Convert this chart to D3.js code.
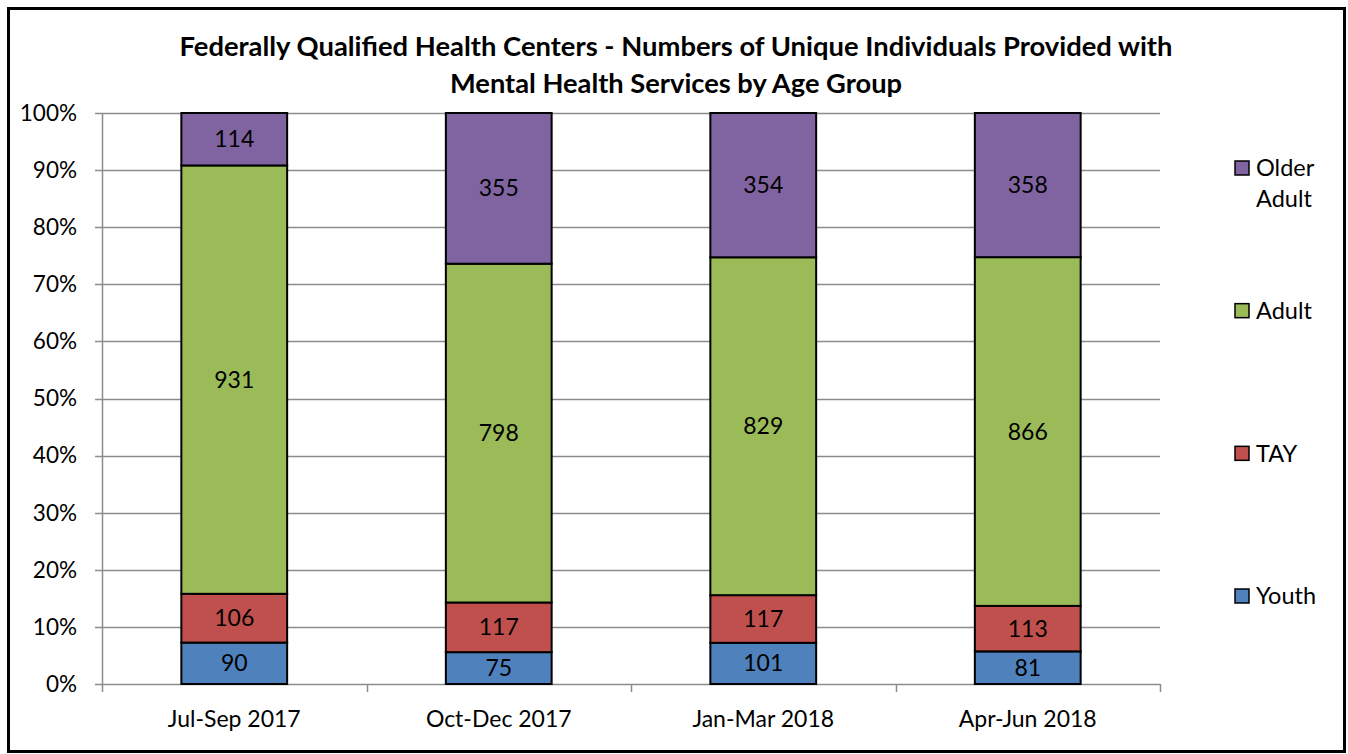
<!DOCTYPE html>
<html>
<head>
<meta charset="utf-8">
<script src="https://cdn.jsdelivr.net/npm/d3@7"></script>
<style>
  html, body { margin: 0; padding: 0; background: #fff; }
  svg { display: block; font-family: Lato, "Open Sans", sans-serif; }
</style>
</head>
<body>
<div id="chart"></div>
<script>
// quarters on the x axis
const quarters = ['Jul-Sep 2017', 'Oct-Dec 2017', 'Jan-Mar 2018', 'Apr-Jun 2018'];

// counts per age group (bottom to top of the stack)
const youth = [90, 75, 101, 81];
const tay = [106, 117, 117, 113];
const adult = [931, 798, 829, 866];
const olderAdult = [114, 355, 354, 358];

const groupNames = ['Youth', 'TAY', 'Adult', 'Older Adult'];
const groupColors = ['#4F81BD', '#C0504D', '#9BBB59', '#8064A2'];
const yTicks = [0, 0.1, 0.2, 0.3, 0.4, 0.5, 0.6, 0.7, 0.8, 0.9, 1];

const titleLines = [
  'Federally Qualified Health Centers - Numbers of Unique Individuals Provided with',
  'Mental Health Services by Age Group'
];

const W = 1348, H = 754;
const margin = { top: 113, right: 188, bottom: 70, left: 102 };
const innerW = W - margin.left - margin.right;
const innerH = H - margin.top - margin.bottom;

const svg = d3.select('#chart').append('svg')
  .attr('width', W)
  .attr('height', H);

// outer frame
svg.append('rect')
  .attr('x', 8.5).attr('y', 8.5)
  .attr('width', 1336).attr('height', 743)
  .attr('fill', 'none')
  .attr('stroke', '#000')
  .attr('stroke-width', 3);

// title
svg.append('text')
  .attr('x', 676)
  .attr('text-anchor', 'middle')
  .attr('font-weight', 'bold')
  .attr('font-size', 26)
  .selectAll('tspan')
  .data(titleLines)
  .join('tspan')
  .attr('x', 676)
  .attr('y', (d, i) => 56 + i * 37)
  .attr('textLength', (d, i) => (i === 0 ? 993 : 452))
  .attr('lengthAdjust', 'spacingAndGlyphs')
  .text((d) => d);

const g = svg.append('g').attr('transform', `translate(${margin.left},${margin.top})`);

// build rows and stack them as percentages
const rows = quarters.map((q, i) => ({
  quarter: q,
  'Youth': youth[i],
  'TAY': tay[i],
  'Adult': adult[i],
  'Older Adult': olderAdult[i]
}));

const stack = d3.stack().keys(groupNames).offset(d3.stackOffsetExpand);
const series = stack(rows);

const x = d3.scaleBand()
  .domain(quarters)
  .range([0, innerW])
  .paddingInner(0.6)
  .paddingOuter(0.3);

const y = d3.scaleLinear().domain([0, 1]).range([innerH, 0]);
const color = d3.scaleOrdinal().domain(groupNames).range(groupColors);

// gridlines
g.append('g')
  .selectAll('line')
  .data(yTicks)
  .join('line')
  .attr('x1', -7)
  .attr('x2', innerW)
  .attr('y1', (d) => Math.round(y(d)) + 0.5)
  .attr('y2', (d) => Math.round(y(d)) + 0.5)
  .attr('stroke', '#8c8c8c')
  .attr('stroke-width', 1.5);

// y axis line
g.append('line')
  .attr('x1', 0.5).attr('x2', 0.5)
  .attr('y1', 0).attr('y2', innerH)
  .attr('stroke', '#8c8c8c')
  .attr('stroke-width', 1.5);

// y labels
g.append('g')
  .selectAll('text')
  .data(yTicks)
  .join('text')
  .attr('x', -25)
  .attr('y', (d) => y(d))
  .attr('dy', '0.35em')
  .attr('text-anchor', 'end')
  .attr('font-size', 22.5)
  .text(d3.format('.0%'));

// x category boundary ticks
const step = x.step();
const boundaries = d3.range(quarters.length + 1).map((i) => i * step);
g.append('g')
  .selectAll('line')
  .data(boundaries)
  .join('line')
  .attr('x1', (d) => Math.round(d) + 0.5)
  .attr('x2', (d) => Math.round(d) + 0.5)
  .attr('y1', innerH)
  .attr('y2', innerH + 8)
  .attr('stroke', '#8c8c8c')
  .attr('stroke-width', 1.5);

// x labels
g.append('g')
  .selectAll('text')
  .data(quarters)
  .join('text')
  .attr('x', (d) => x(d) + x.bandwidth() / 2)
  .attr('y', innerH + 35)
  .attr('dy', '0.35em')
  .attr('text-anchor', 'middle')
  .attr('font-size', 23)
  .text((d) => d);

// stacked bars
const layer = g.append('g')
  .selectAll('g')
  .data(series)
  .join('g')
  .attr('fill', (d) => color(d.key));

layer.selectAll('rect')
  .data((d) => d.map((v) => ({ key: d.key, v })))
  .join('rect')
  .attr('x', (d) => x(d.v.data.quarter))
  .attr('y', (d) => y(d.v[1]))
  .attr('width', x.bandwidth())
  .attr('height', (d) => y(d.v[0]) - y(d.v[1]))
  .attr('stroke', '#000')
  .attr('stroke-width', 2);

// value labels
layer.selectAll('text')
  .data((d) => d.map((v) => ({ key: d.key, v })))
  .join('text')
  .attr('x', (d) => x(d.v.data.quarter) + x.bandwidth() / 2)
  .attr('y', (d) => (y(d.v[0]) + y(d.v[1])) / 2)
  .attr('dy', '0.35em')
  .attr('text-anchor', 'middle')
  .attr('fill', '#000')
  .attr('font-size', 23)
  .text((d) => d.v.data[d.key]);

// legend, top to bottom
const legendItems = groupNames.slice().reverse();
const legendY = d3.scalePoint().domain(legendItems).range([168, 596]);
const legend = svg.append('g')
  .selectAll('g')
  .data(legendItems)
  .join('g')
  .attr('transform', (d) => `translate(1235,${legendY(d)})`);

legend.append('rect')
  .attr('x', 0).attr('y', -7)
  .attr('width', 14).attr('height', 14)
  .attr('fill', (d) => color(d))
  .attr('stroke', '#000')
  .attr('stroke-width', 1.5);

legend.append('text')
  .attr('font-size', 23.5)
  .selectAll('tspan')
  .data((d) => d.split(' '))
  .join('tspan')
  .attr('x', 21)
  .attr('y', (d, i) => i * 31)
  .attr('dy', '0.35em')
  .text((d) => d);
</script>
</body>
</html>
